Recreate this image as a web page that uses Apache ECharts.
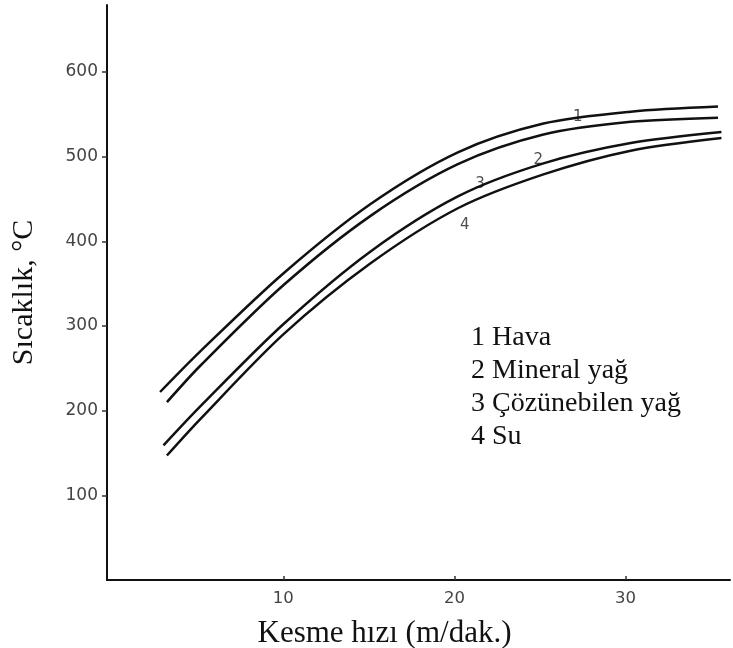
<!DOCTYPE html>
<html>
<head>
<meta charset="utf-8">
<script src="https://cdn.jsdelivr.net/npm/echarts@6/dist/echarts.min.js"></script>
<style>html,body{margin:0;padding:0;background:#fff}#c{width:733px;height:648px}</style>
</head>
<body>
<div id="c"></div>
<script>
// Data
var seriesNames = ['1 Hava', '2 Mineral yağ', '3 Çözünebilen yağ', '4 Su'];
var hava        = [[2.8, 222], [5.15, 270], [10, 362], [15.1, 444], [20.2, 505], [25.2, 539], [30.3, 553], [35.4, 559]];
var mineral     = [[3.2, 210], [5.15, 253], [10, 348], [15.1, 430], [20.2, 491], [25.2, 526], [30.3, 541], [35.4, 546]];
var cozunebilen = [[3.0, 159], [5.15, 205], [10, 302], [15.1, 388], [20.2, 453], [25.2, 492], [30.3, 516], [35.6, 529]];
var su          = [[3.2, 147], [5.15, 190], [10, 290], [15.1, 374], [20.2, 439], [25.2, 479], [30.3, 507], [35.6, 522]];
var curveLabels = [[27.2, 547, '1'], [24.9, 496, '2'], [21.5, 467, '3'], [20.6, 419, '4']];
var xTicks = [10, 20, 30];
var yTicks = [100, 200, 300, 400, 500, 600];
var xAxisName = 'Kesme hızı (m/dak.)';
var yAxisName = 'Sıcaklık, °C';

var chart = echarts.init(document.getElementById('c'), null, {renderer: 'canvas'});
var lineStyle = {color: '#111', width: 2.5};
function curve(name, data) {
  return {type: 'line', name: name, data: data, smooth: 0.3, symbol: 'none',
          lineStyle: lineStyle, silent: true, animation: false};
}
var serifFont = '"Liberation Serif", "DejaVu Serif", serif';
var sansFont = '"DejaVu Sans", "Liberation Sans", sans-serif';
chart.setOption({
  animation: false,
  backgroundColor: '#fff',
  grid: {left: 107, right: 3, top: 5, bottom: 68, containLabel: false, outerBoundsMode: 'none'},
  xAxis: {
    type: 'value', min: -0.3, max: 36.1,
    name: xAxisName, nameLocation: 'middle', nameGap: 38,
    nameTextStyle: {fontFamily: serifFont, fontSize: 31, color: '#111', padding: [0, 68, 0, 0]},
    axisLine: {show: true, onZero: false, lineStyle: {color: '#111', width: 2}},
    axisTick: {show: true, inside: true, length: 4, customValues: xTicks, lineStyle: {color: '#333', width: 1.5}},
    axisLabel: {customValues: xTicks, fontFamily: sansFont, fontSize: 16.5, color: '#444', margin: 10},
    splitLine: {show: false}
  },
  yAxis: {
    type: 'value', min: 0, max: 679,
    name: yAxisName, nameLocation: 'middle', nameGap: 68, nameRotate: 90,
    nameTextStyle: {fontFamily: serifFont, fontSize: 30, color: '#111'},
    axisLine: {show: true, onZero: false, lineStyle: {color: '#111', width: 2}},
    axisTick: {show: true, inside: false, length: 5, customValues: yTicks, lineStyle: {color: '#333', width: 1.5}},
    axisLabel: {customValues: yTicks, fontFamily: sansFont, fontSize: 17, color: '#444', margin: 9},
    splitLine: {show: false}
  },
  series: [
    curve(seriesNames[0], hava),
    curve(seriesNames[1], mineral),
    curve(seriesNames[2], cozunebilen),
    curve(seriesNames[3], su),
    {
      type: 'scatter', data: curveLabels, symbolSize: 0, silent: true,
      label: {show: true, position: 'inside', formatter: function (p) { return p.value[2]; },
              fontFamily: sansFont, fontSize: 15, color: '#222'}
    }
  ],
  graphic: [{
    type: 'text', left: 471, top: 321,
    style: {text: seriesNames.join('\n'), font: '28px ' + serifFont, fill: '#111', lineHeight: 33}
  }]
});
</script>
</body>
</html>
